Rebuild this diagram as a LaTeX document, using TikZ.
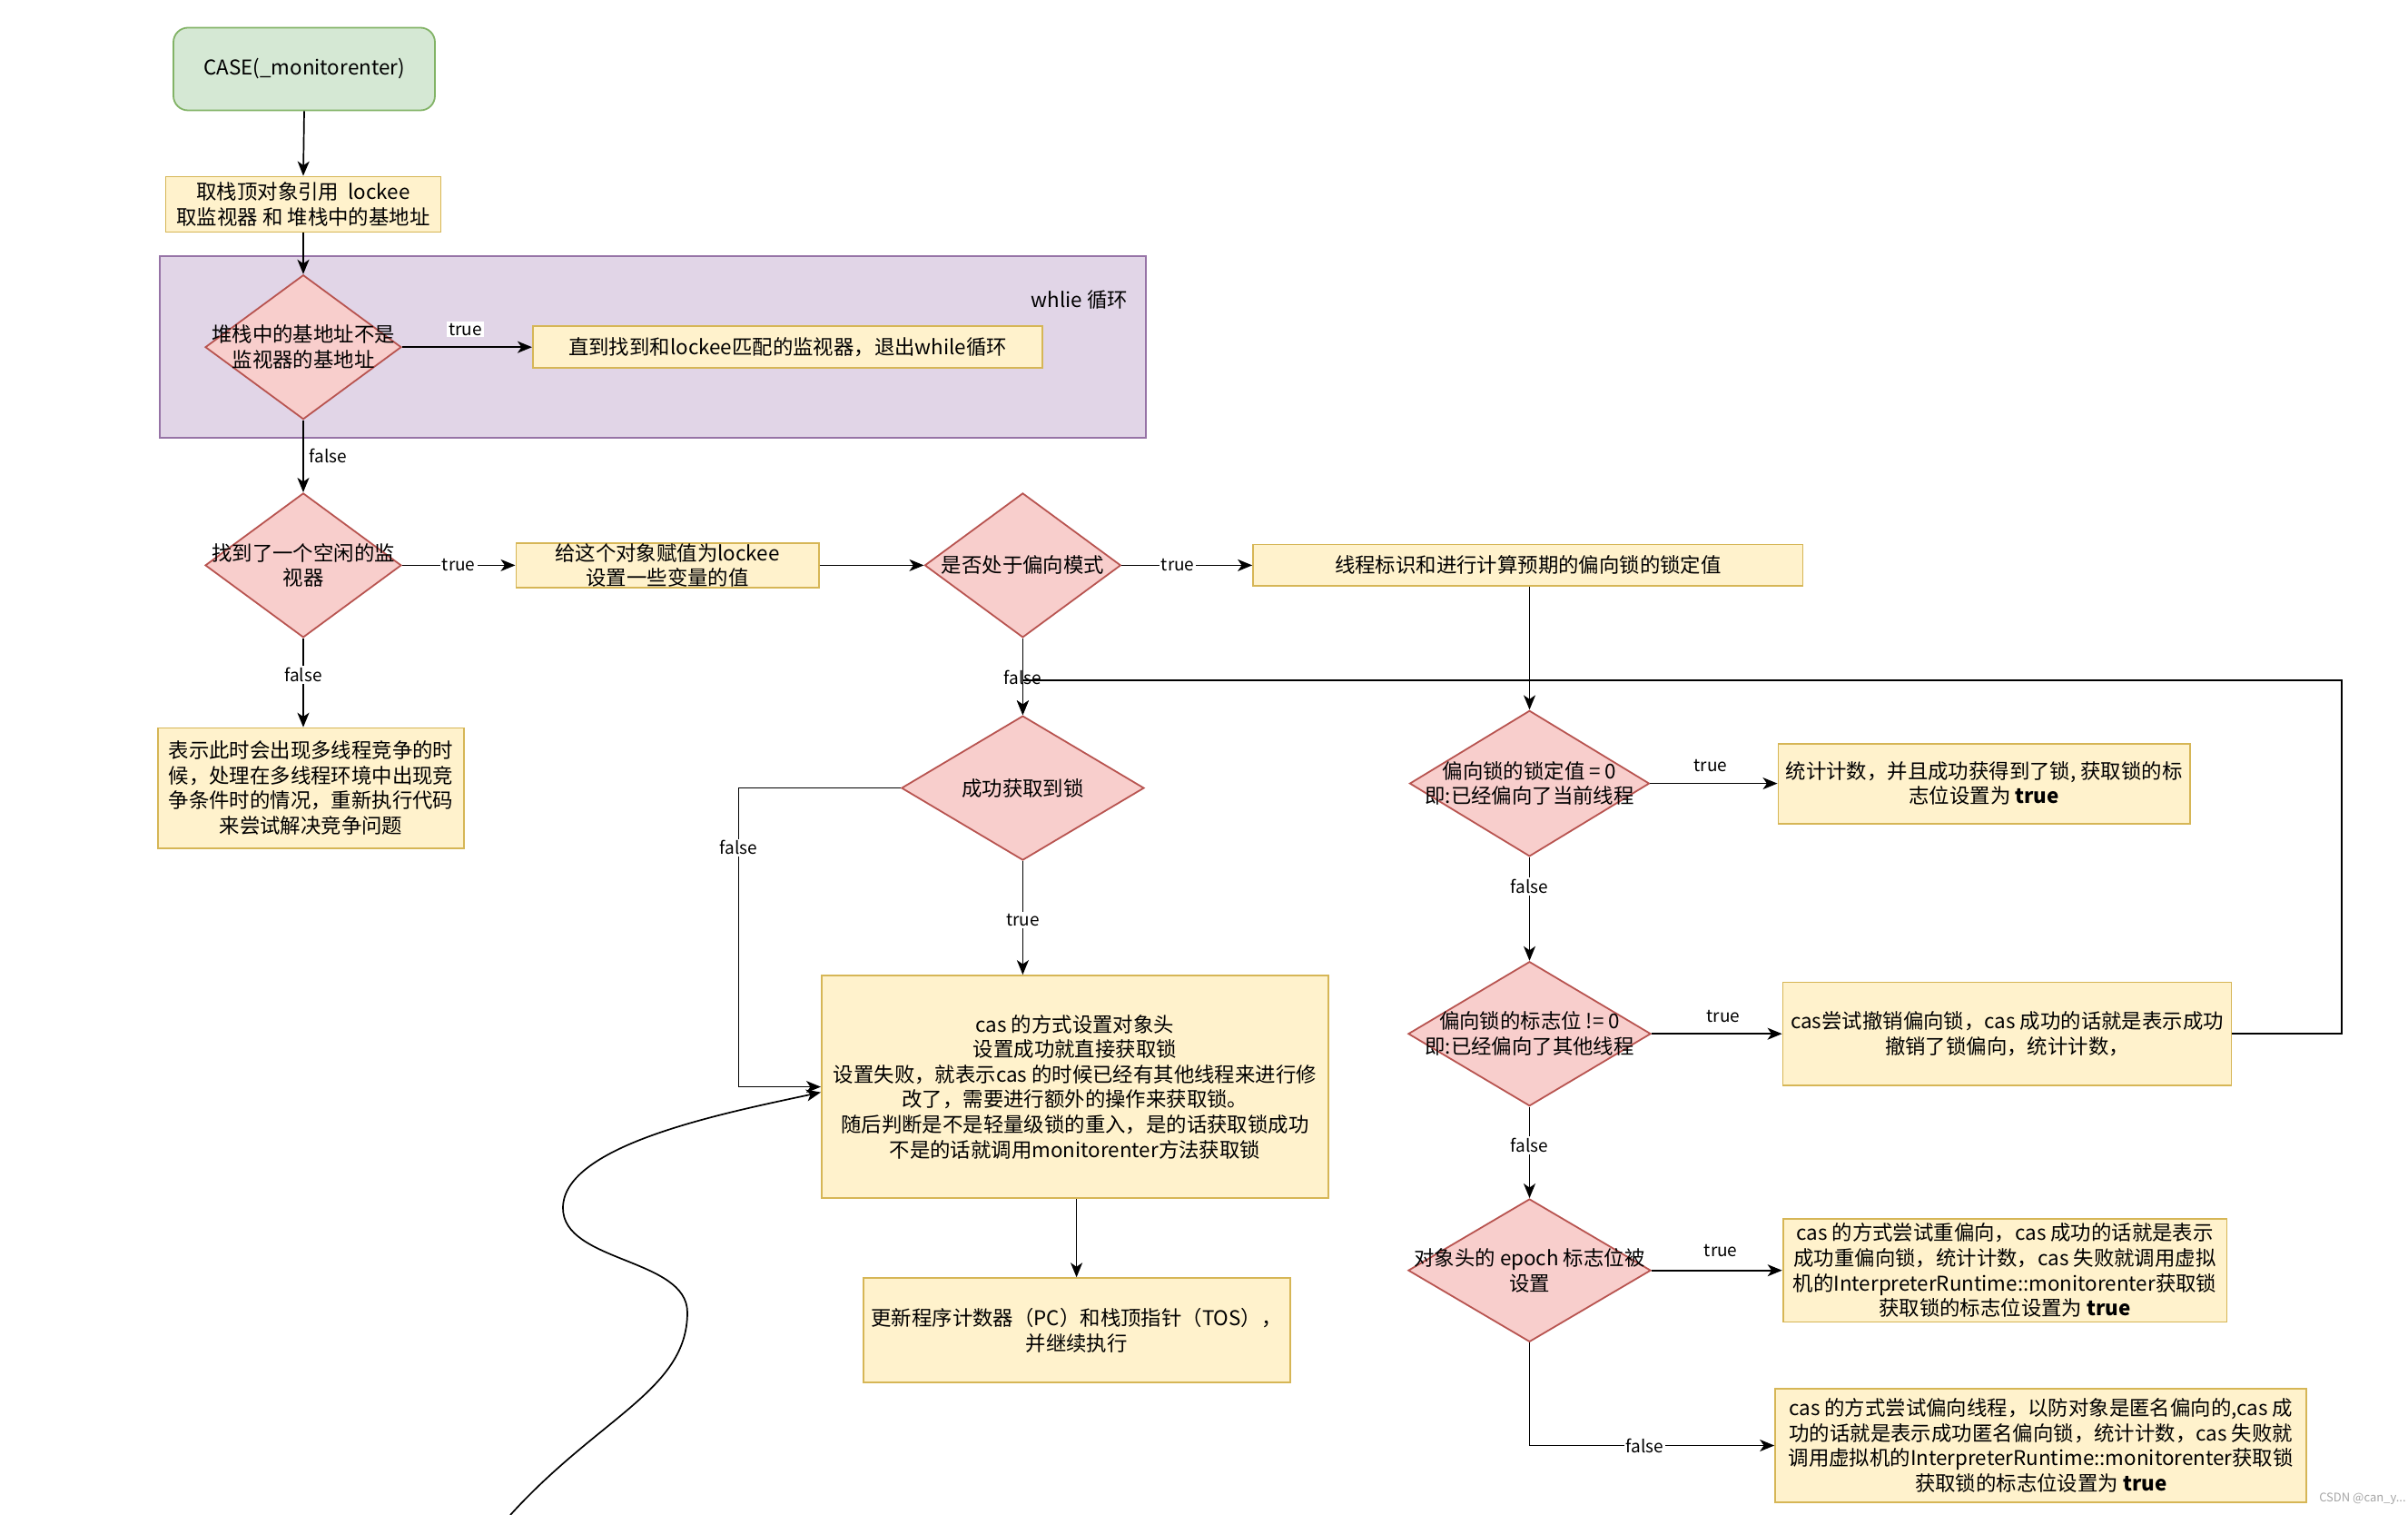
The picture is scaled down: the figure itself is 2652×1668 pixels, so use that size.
\documentclass[tikz,border=0pt]{standalone}
\usepackage{fontspec}
\setmainfont{Noto Sans CJK SC}
\usetikzlibrary{shapes.geometric,arrows.meta}
\definecolor{gfill}{HTML}{D5E8D4}
\definecolor{gstroke}{HTML}{82B366}
\definecolor{yfill}{HTML}{FFF2CC}
\definecolor{ystroke}{HTML}{D6B656}
\definecolor{rfill}{HTML}{F8CECC}
\definecolor{rstroke}{HTML}{B85450}
\definecolor{pfill}{HTML}{E1D5E7}
\definecolor{pstroke}{HTML}{9673A6}
\begin{document}
\begin{tikzpicture}[x=0.5pt,y=-0.5pt,
  every node/.style={font=\fontsize{11.2}{13.8}\selectfont, inner sep=0pt, align=center},
  ybox/.style={draw=ystroke, fill=yfill, line width=0.9pt, rectangle},
  dia/.style={draw=rstroke, fill=rfill, line width=0.9pt, diamond},
  conn/.style={line width=0.85pt, -{Stealth[length=8pt,width=6.5pt,inset=2.2pt]}},
  lbl/.style={font=\fontsize{9.5}{11}\selectfont, fill=white, inner sep=1pt},
  lbln/.style={font=\fontsize{9.5}{11}\selectfont, inner sep=1pt}]
\useasboundingbox[fill=white] (0,0) rectangle (2652,1668);

% purple loop region
\node[draw=pstroke, fill=pfill, line width=0.9pt, minimum width=542.9pt, minimum height=99.8pt] (loop) at (718.8,382.2) {};
\node (wl) at (1189,330) {whlie 循环};

% start
\node[rounded corners=8pt, draw=gstroke, fill=gfill, line width=0.9pt, minimum width=144pt, minimum height=45.5pt] (case) at (335,76) {CASE(\_monitorenter)};
\node[ybox, minimum width=151.5pt, minimum height=30.5pt] (box2) at (334,225) {取栈顶对象引用\ \ lockee\\取监视器 和 堆栈中的基地址};

% diamond 1
\node[dia, minimum width=108pt, minimum height=79.5pt] (d1) at (334,382.2) {};
\node (d1t) at (d1) {堆栈中的基地址不是\\监视器的基地址};
\node[ybox, minimum width=280.75pt, minimum height=22.8pt] (box3) at (867.6,382.2) {直到找到和lockee匹配的监视器，退出while循环};

% diamond 2
\node[dia, minimum width=108pt, minimum height=79.5pt] (d2) at (334,622.4) {};
\node (d2t) at (d2) {找到了一个空闲的监\\视器};
\node[ybox, minimum width=166.6pt, minimum height=22.85pt] (box4) at (735,622.4) {给这个对象赋值为lockee\\设置一些变量的值};

% diamond 3
\node[dia, minimum width=108pt, minimum height=79.5pt] (d3) at (1126.4,622.4) {};
\node (d3t) at (d3) {是否处于偏向模式};
\node[ybox, minimum width=302.75pt, minimum height=22.85pt] (box5) at (1682.8,622.4) {线程标识和进行计算预期的偏向锁的锁定值};

% box 6
\node[ybox, minimum width=168.3pt, minimum height=66pt] (box6) at (342.5,867.6) {表示此时会出现多线程竞争的时\\候，处理在多线程环境中出现竞\\争条件时的情况，重新执行代码\\来尝试解决竞争问题};

% diamond 4
\node[dia, minimum width=133.6pt, minimum height=79.5pt] (d4) at (1126.4,867.6) {};
\node (d4t) at (d4) {成功获取到锁};

% big box
\node[ybox, minimum width=279pt, minimum height=122.6pt] (big) at (1183.9,1196.6) {cas 的方式设置对象头\\设置成功就直接获取锁\\设置失败，就表示cas 的时候已经有其他线程来进行修\\改了，需要进行额外的操作来获取锁。\\随后判断是不是轻量级锁的重入，是的话获取锁成功\\不是的话就调用monitorenter方法获取锁};
\node[ybox, minimum width=235pt, minimum height=57.5pt] (box8) at (1185.6,1464.7) {更新程序计数器（PC）和栈顶指针（TOS），\\并继续执行};

% right column
\node[dia, minimum width=132pt, minimum height=80.3pt] (d5) at (1684.5,862.6) {};
\node (d5t) at (d5) {偏向锁的锁定值 = 0\\即:已经偏向了当前线程};
\node[ybox, minimum width=226.7pt, minimum height=44pt] (box9) at (2185.1,862.6) {统计计数，并且成功获得到了锁, 获取锁的标\\志位设置为 \textbf{true}};

\node[dia, minimum width=133.6pt, minimum height=79.5pt] (d6) at (1684.5,1138.2) {};
\node (d6t) at (d6) {偏向锁的标志位 != 0\\即:已经偏向了其他线程};
\node[ybox, minimum width=247pt, minimum height=56.7pt] (box10) at (2210.5,1138.2) {cas尝试撤销偏向锁，cas 成功的话就是表示成功\\撤销了锁偏向，统计计数，};

\node[dia, minimum width=133.6pt, minimum height=78.7pt] (d7) at (1684.5,1398.7) {};
\node (d7t) at (d7) {对象头的 epoch 标志位被\\设置};
\node[ybox, minimum width=244.4pt, minimum height=56.7pt] (box11) at (2208,1398.7) {cas 的方式尝试重偏向，cas 成功的话就是表示\\成功重偏向锁，统计计数，cas 失败就调用虚拟\\机的InterpreterRuntime::monitorenter获取锁\\获取锁的标志位设置为 \textbf{true}};

\node[ybox, minimum width=292.6pt, minimum height=62.6pt] (box12) at (2247.7,1591.5) {cas 的方式尝试偏向线程，以防对象是匿名偏向的,cas 成\\功的话就是表示成功匿名偏向锁，统计计数，cas 失败就\\调用虚拟机的InterpreterRuntime::monitorenter获取锁\\获取锁的标志位设置为 \textbf{true}};

\node[font=\fontsize{6.5}{7}\selectfont, text=black!35, anchor=east] (wm) at (2650,1650) {CSDN @can\_y...};

% connectors
\draw[conn] (case.south) -- (box2.north);
\draw[conn] (box2.south) -- (d1.north);
\draw[conn] (d1.east) -- node[lbl, pos=0.486, above=5pt] {true} (box3.west);
\draw[conn] (d1.south) -- node[lbln, pos=0.5, right=2pt] {false} (d2.north);
\draw[conn] (d2.east) -- node[lbl, pos=0.5] {true} (box4.west);
\draw[conn] (box4.east) -- (d3.west);
\draw[conn] (d3.east) -- node[lbl, pos=0.43] {true} (box5.west);
\draw[conn] (d2.south) -- node[lbl, pos=0.41] {false} (d2.south |- box6.north);
\draw[conn] (d3.south) -- node[lbln, pos=0.51] {false} (d4.north);
\draw[conn] (box10.east) -| (2579,749) -| (d4.north);
\draw[conn] (d4.west) -| node[lbl, pos=0.6] {false} (813.5,1196.6) -- (big.west);
\draw[conn] (d4.south) -- node[lbl, pos=0.52] {true} (d4.south |- big.north);
\draw[conn] (box8.north |- big.south) -- (box8.north);
\draw[conn] (d5.north |- box5.south) -- (d5.north);
\draw[conn] (d5.east) -- node[lbln, pos=0.475, above=5pt] {true} (box9.west);
\draw[conn] (d5.south) -- node[lbl, pos=0.28] {false} (d6.north);
\draw[conn] (d6.east) -- node[lbln, pos=0.55, above=5pt] {true} (box10.west);
\draw[conn] (d6.south) -- node[lbl, pos=0.42] {false} (d7.north);
\draw[conn] (d7.east) -- node[lbln, pos=0.53, above=6pt] {true} (box11.west);
\draw[conn] (d7.south) -- (d7.south |- box12.west) -- node[lbl, pos=0.47] {false} (box12.west);

% free curve
\coordinate (cs) at (562,1668);
\draw[conn] (cs) .. controls (660,1560) and (757,1530) .. (757,1445) .. controls (757,1385) and (620,1390) .. (620,1330) .. controls (620,1260) and (800,1225) .. ([yshift=-3pt]big.west);
\end{tikzpicture}
\end{document}
